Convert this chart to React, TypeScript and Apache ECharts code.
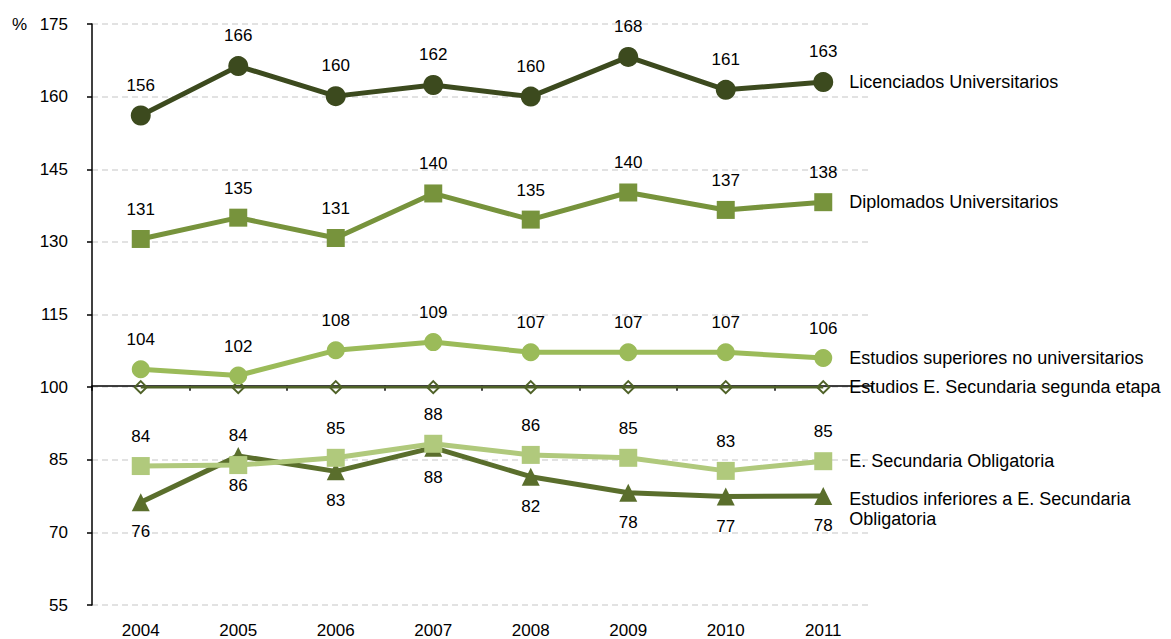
import React, { useEffect, useRef } from "react";
import * as echarts from "echarts";

const years = ["2004", "2005", "2006", "2007", "2008", "2009", "2010", "2011"];
const yTicks = { min: 55, max: 175, interval: 15 };

const licenciados = [156.1, 166.3, 160.1, 162.4, 160.0, 168.2, 161.4, 163.0];
const diplomados = [130.6, 135.0, 130.8, 140.0, 134.6, 140.2, 136.6, 138.2];
const superiores = [103.7, 102.4, 107.6, 109.3, 107.2, 107.2, 107.2, 106.0];
const segundaEtapa = [100, 100, 100, 100, 100, 100, 100, 100];
const obligatoria = [83.7, 83.9, 85.4, 88.3, 86.0, 85.4, 82.7, 84.7];
const inferiores = [76.2, 85.8, 82.6, 87.5, 81.5, 78.2, 77.4, 77.5];

const names = [
  "Licenciados Universitarios",
  "Diplomados Universitarios",
  "Estudios superiores no universitarios",
  "Estudios E. Secundaria segunda etapa",
  "E. Secundaria Obligatoria",
  "Estudios inferiores a E. Secundaria\nObligatoria",
];

const FONT = "Liberation Sans, Arial, sans-serif";
const W = 1171;
const H = 639;
const GRID = { left: 92, right: 299, top: 24, bottom: 30 };

export default function App() {
  const ref = useRef<HTMLDivElement>(null);
  useEffect(() => {
    if (!ref.current) return;
    const chart = echarts.init(ref.current, undefined, { renderer: "svg" });
    const plotH = H - GRID.top - GRID.bottom;
    const axis100 = ((100 - yTicks.min) / (yTicks.max - yTicks.min)) * plotH;

    const dataLabel = (pos: string) => ({
      show: true,
      position: pos,
      distance: 12,
      color: "#000",
      fontSize: 17,
      fontFamily: FONT,
      formatter: (p: any) => String(Math.round(p.value)),
    });
    const endLabel = (name: string, offset: number[] = [0, 0]) => ({
      show: true,
      formatter: name,
      distance: 26,
      color: "#000",
      fontSize: 18,
      fontFamily: FONT,
      lineHeight: 20,
      offset,
    });

    const mk = (
      i: number,
      data: number[],
      color: string,
      symbol: string,
      size: number,
      labelPos: string | null,
      width = 5,
      extra: any = {}
    ) => ({
      type: "line",
      name: names[i],
      data,
      symbol,
      symbolSize: size,
      lineStyle: { color, width },
      itemStyle: { color },
      label: labelPos ? dataLabel(labelPos) : { show: false },
      endLabel: endLabel(names[i], extra.offset),
      z: 10 - i,
      ...(extra.series || {}),
    });

    chart.setOption({
      animation: false,
      grid: { ...GRID },
      graphic: [
        {
          type: "text",
          left: 12,
          top: 16,
          style: { text: "%", fontSize: 17, fontFamily: FONT, fill: "#000" },
        },
      ],
      xAxis: [
        {
          type: "category",
          data: years,
          boundaryGap: true,
          axisLine: { show: false },
          axisTick: { show: false },
          axisLabel: { color: "#000", fontSize: 17, fontFamily: FONT, margin: 17 },
        },
        {
          type: "category",
          data: years,
          boundaryGap: true,
          position: "bottom",
          offset: -axis100,
          axisLine: { show: true, lineStyle: { color: "#000", width: 1.5 } },
          axisTick: { show: true, length: 5, lineStyle: { color: "#000", width: 1.5 } },
          axisLabel: { show: false },
        },
      ],
      yAxis: {
        type: "value",
        min: yTicks.min,
        max: yTicks.max,
        interval: yTicks.interval,
        axisLine: { show: true, lineStyle: { color: "#000", width: 1.5 } },
        axisTick: { show: true, length: 5, lineStyle: { color: "#000", width: 1.5 } },
        axisLabel: { color: "#000", fontSize: 17, fontFamily: FONT, margin: 24 },
        splitLine: { show: true, lineStyle: { color: "#D9D9D9", width: 1.5, type: [6, 4] } },
      },
      series: [
        mk(0, licenciados, "#3C4A1E", "circle", 20, "top"),
        mk(1, diplomados, "#77933C", "rect", 18, "top"),
        mk(2, superiores, "#9BBB59", "circle", 18, "top"),
        mk(3, segundaEtapa, "#4F6228", "diamond", 12, null, 2.5, {
          series: { itemStyle: { color: "none", borderColor: "#4F6228", borderWidth: 2 } },
        }),
        mk(4, obligatoria, "#B0C97C", "rect", 18, "top"),
        mk(5, inferiores, "#5A6E2C", "triangle", 18, "bottom", 5, { offset: [0, 13] }),
      ],
    });
    return () => chart.dispose();
  }, []);
  return <div ref={ref} style={{ width: W, height: H, position: "absolute", left: 0, top: 0 }} />;
}
